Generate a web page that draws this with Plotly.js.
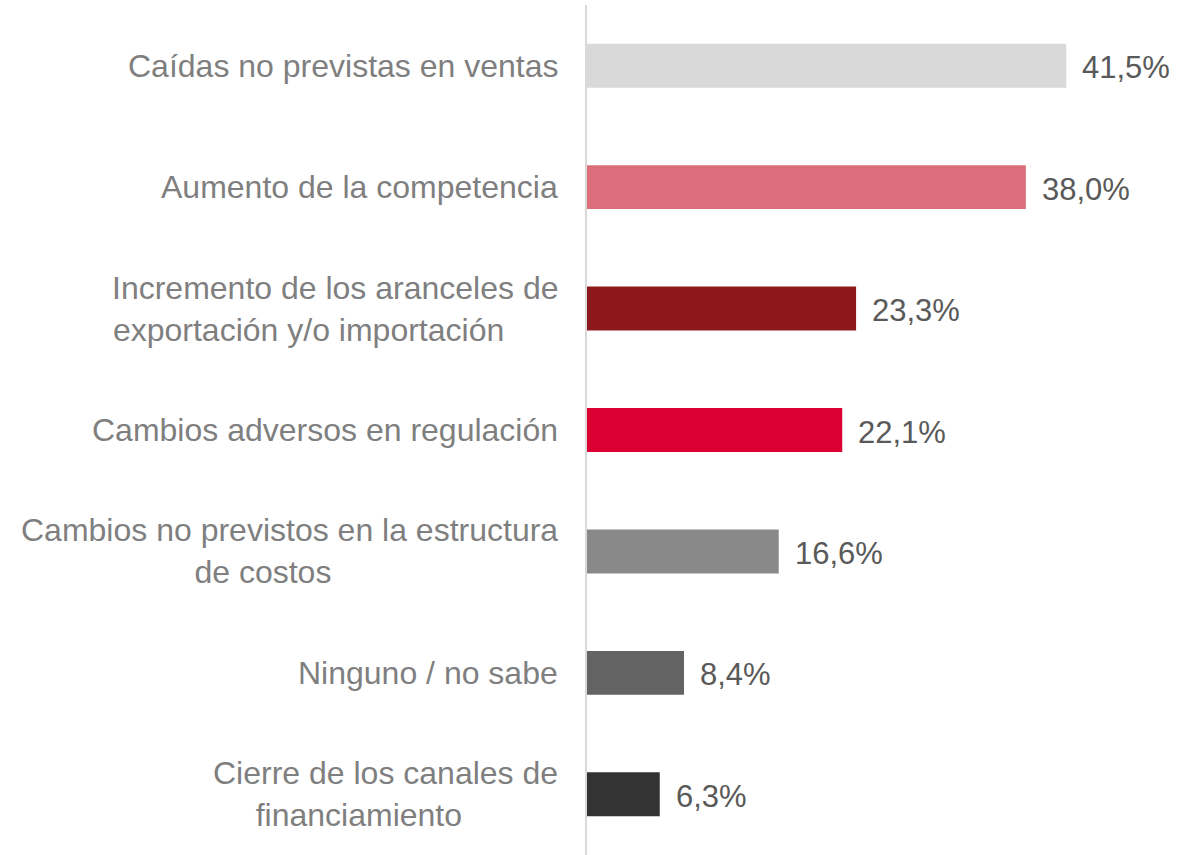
<!DOCTYPE html>
<html>
<head>
<meta charset="utf-8">
<script src="https://cdn.plot.ly/plotly-3.0.1.min.js"></script>
<style>
  html, body { margin: 0; padding: 0; background: #ffffff; }
  #chart { width: 1191px; height: 855px; }
</style>
</head>
<body>
<div id="chart"></div>
<script>
// Categories, top to bottom
const categories = [
  'Caídas no previstas en ventas',
  'Aumento de la competencia',
  'Incremento de los aranceles de<br>exportación y/o importación',
  'Cambios adversos en regulación',
  'Cambios no previstos en la estructura<br>de costos',
  'Ninguno / no sabe',
  'Cierre de los canales de<br>financiamiento'
];

// Share of respondents (%)
const values = [41.5, 38.0, 23.3, 22.1, 16.6, 8.4, 6.3];

const barColors = ['#d9d9d9', '#dc6e7c', '#8c181c', '#dc0032', '#898989', '#636363', '#333333'];

const FONT = '"Liberation Sans", Arial, sans-serif';

const fmt = v => v.toFixed(1).replace('.', ',') + '%';

// the wrapped second lines sit a bit left of centre in the original
const wrapLabel = c => c.includes('<br>') ? c + '\u00a0'.repeat(6) : c;

const trace = {
  type: 'bar',
  orientation: 'h',
  x: values,
  y: categories,
  marker: { color: barColors },
  hoverinfo: 'skip'
};

// category labels on the left
const labelNotes = categories.map(c => ({
  xref: 'paper', yref: 'y',
  x: 0, y: c,
  text: wrapLabel(c),
  xanchor: 'right', yanchor: 'middle',
  align: 'center',
  xshift: -27,
  showarrow: false,
  font: { family: FONT, size: 32, color: '#7f7f7f' }
}));

// value labels after each bar
const valueNotes = values.map((v, i) => ({
  xref: 'x', yref: 'y',
  x: v, y: categories[i],
  text: fmt(v),
  xanchor: 'left', yanchor: 'middle',
  xshift: 14,
  yshift: -2,
  showarrow: false,
  font: { family: FONT, size: 31, color: '#595959' }
}));

const layout = {
  width: 1191,
  height: 855,
  margin: { l: 587, r: 0, t: 5, b: 0 },
  paper_bgcolor: '#ffffff',
  plot_bgcolor: '#ffffff',
  bargap: 0.638,
  showlegend: false,
  xaxis: {
    range: [0, 52.3],
    visible: false,
    showgrid: false,
    zeroline: false,
    fixedrange: true
  },
  yaxis: {
    autorange: 'reversed',
    showticklabels: false,
    ticks: '',
    showgrid: false,
    showline: true,
    linecolor: '#d9d9d9',
    linewidth: 2,
    fixedrange: true
  },
  annotations: [...labelNotes, ...valueNotes]
};

Plotly.newPlot('chart', [trace], layout, { displayModeBar: false, staticPlot: true });
</script>
</body>
</html>
